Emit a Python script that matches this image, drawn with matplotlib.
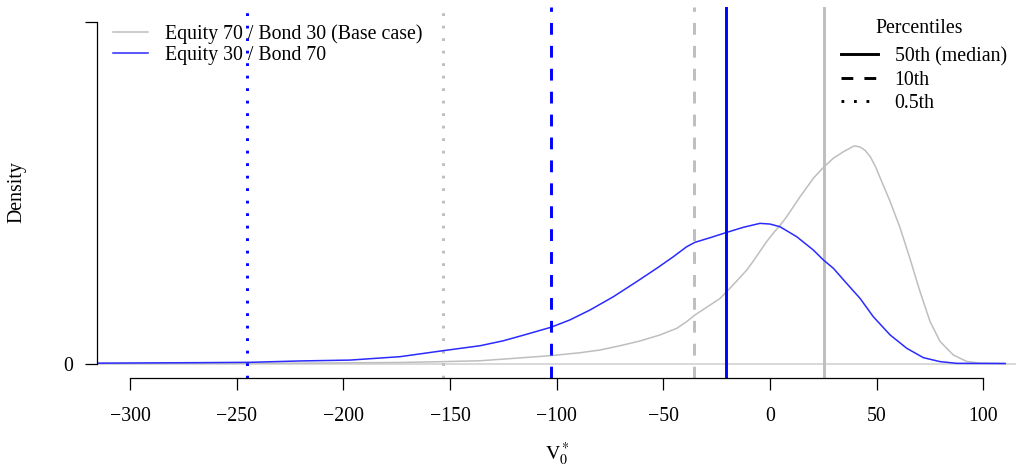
import matplotlib

matplotlib.use("Agg")
import matplotlib.pyplot as plt
from matplotlib.lines import Line2D


# density estimates (V0* value, density)
BASE_X = [-315.5, -260.0, -220.0, -196.9, -173.4, -153.3, -135.9, -120.3, -102.7, -89.1,
          -79.7, -70.3, -60.9, -51.6, -43.7, -39.1, -35.2, -28.1, -23.4, -18.8,
          -14.1, -10.9, -7.8, -1.6, 1.6, 4.7, 7.8, 14.1, 20.3, 25.3,
          29.7, 34.4, 39.4, 42.0, 44.5, 47.0, 49.5, 52.5, 56.3, 57.8, 60.9,
          65.6, 70.3, 75.0, 79.7, 85.9, 92.2, 98.4, 110.2]
BASE_D = [0.0, 0.00001, 0.00002, 0.00004, 0.00006, 0.00011, 0.00016, 0.00030, 0.00046, 0.00063,
          0.00079, 0.00104, 0.00132, 0.00167, 0.00206, 0.00245, 0.00284, 0.00342, 0.00381, 0.00440,
          0.00503, 0.00547, 0.00600, 0.00713, 0.00764, 0.00808, 0.00859, 0.00976, 0.01084, 0.01151,
          0.01201, 0.01239, 0.01273, 0.01268, 0.01248, 0.01210, 0.01150, 0.01060, 0.00948, 0.00898, 0.00796,
          0.00614, 0.00421, 0.00246, 0.00129, 0.00050, 0.00012, 0.00002, 0.0]

ALT_X = [-315.5, -267.2, -243.8, -220.3, -196.9, -173.4, -153.3, -135.9, -125.0, -114.1,
         -102.7, -93.8, -84.4, -73.4, -62.5, -53.1, -45.3, -39.1, -35.2, -28.1,
         -20.6, -12.5, -4.7, 0.0, 4.7, 12.5, 20.3, 25.0, 29.7, 35.9,
         42.2, 48.4, 56.3, 64.1, 71.9, 79.7, 87.5, 110.2]
ALT_D = [0.00002, 0.00005, 0.00007, 0.00015, 0.00020, 0.00040, 0.00075, 0.00104, 0.00133, 0.00171,
         0.00212, 0.00255, 0.00313, 0.00391, 0.00479, 0.00557, 0.00625, 0.00683, 0.00709, 0.00736,
         0.00766, 0.00797, 0.00820, 0.00816, 0.00800, 0.00742, 0.00664, 0.00606, 0.00557, 0.00469,
         0.00381, 0.00274, 0.00167, 0.00089, 0.00034, 0.00011, 0.00001, 0.0]

# percentiles: 50th, 10th, 0.5th
BASE_PCT = [25.3, -35.5, -153.2]
ALT_PCT = [-20.7, -102.5, -245.3]

SERIES_LABELS = ["Equity 70 / Bond 30 (Base case)", "Equity 30 / Bond 70"]
PCT_LABELS = ["50th (median)", "10th", "0.5th"]
X_TICKS = [-300, -250, -200, -150, -100, -50, 0, 50, 100]
Y_TICKS = [0, 0.02]
Y_TICK_LABELS = ["0", ""]

GRAY = "#bebebe"
BLUE = "#0000ff"
CURVE_BLUE = "#2a2aff"
PCT_STYLES = ["-", (0, (8.5, 8.0)), (0, (2.0, 7.0))]
FS = 14.3


def main() -> None:
    plt.rcParams.update(
        {
            "font.family": ["Liberation Serif", "DejaVu Serif"],
            "mathtext.fontset": "stix",
            "font.size": FS,
            "lines.scale_dashes": False,
            "axes.unicode_minus": True,
        }
    )

    fig = plt.figure(figsize=(10.16, 4.66), dpi=100)
    ax = fig.add_axes([0.0952, 0.1899, 0.9048, 0.7951])

    ax.axhline(0, color="#d6d6d6", lw=1.3, zorder=1)

    ax.plot(BASE_X, BASE_D, color=GRAY, lw=1.1, zorder=2, solid_joinstyle="round")
    for val, ls in zip(BASE_PCT, PCT_STYLES):
        ax.axvline(val, color=GRAY, lw=2.1, linestyle=ls, zorder=2.1)

    ax.plot(ALT_X, ALT_D, color=CURVE_BLUE, lw=1.1, zorder=2.2, solid_joinstyle="round")
    for val, ls in zip(ALT_PCT, PCT_STYLES):
        ax.axvline(val, color=BLUE, lw=2.1, linestyle=ls, zorder=2.3)

    ax.set_xlim(-315.6, 115.3)
    ax.set_ylim(-0.000819, 0.02086)

    for side in ("top", "right"):
        ax.spines[side].set_visible(False)
    ax.spines["left"].set_bounds(0, 0.02)
    ax.spines["bottom"].set_bounds(-300, 100)
    ax.spines["left"].set_linewidth(0.9)
    ax.spines["bottom"].set_linewidth(0.9)

    ax.set_xticks(X_TICKS)
    ax.set_yticks(Y_TICKS)
    ax.set_yticklabels(Y_TICK_LABELS)
    ax.tick_params(axis="x", length=8.3, width=0.9, pad=13, labelsize=FS)
    ax.tick_params(axis="y", length=9, width=0.9, pad=8.0, labelsize=FS)

    fig.text(17 / 1016, 1 - 192.5 / 466, "Density", rotation=90, ha="center", va="center", fontsize=FS)
    fig.text(557 / 1016, 1 - 454 / 466, r"$\mathrm{V}_0^*$", ha="center", va="center", fontsize=FS)

    series_handles = [
        Line2D([0], [0], color=GRAY, lw=1.1),
        Line2D([0], [0], color=CURVE_BLUE, lw=1.1),
    ]
    leg1 = ax.legend(
        series_handles,
        SERIES_LABELS,
        loc="upper left",
        bbox_to_anchor=(0.0177, 0.954),
        frameon=False,
        borderpad=0,
        borderaxespad=0,
        handlelength=1.76,
        handletextpad=0.85,
        labelspacing=0.10,
        fontsize=FS,
    )
    ax.add_artist(leg1)

    pct_handles = [Line2D([0], [0], color="black", lw=2.1, linestyle=ls) for ls in PCT_STYLES]
    ax.legend(
        pct_handles,
        PCT_LABELS,
        loc="upper right",
        bbox_to_anchor=(0.9899, 0.892),
        frameon=False,
        borderpad=0,
        borderaxespad=0,
        handlelength=1.86,
        handletextpad=0.84,
        labelspacing=0.22,
        fontsize=FS,
    )
    fig.text(919 / 1016, 1 - 28.5 / 466, "Percentiles", ha="center", va="center", fontsize=FS)

    fig.savefig("out.png", dpi=100)
    plt.close(fig)


if __name__ == "__main__":
    main()
